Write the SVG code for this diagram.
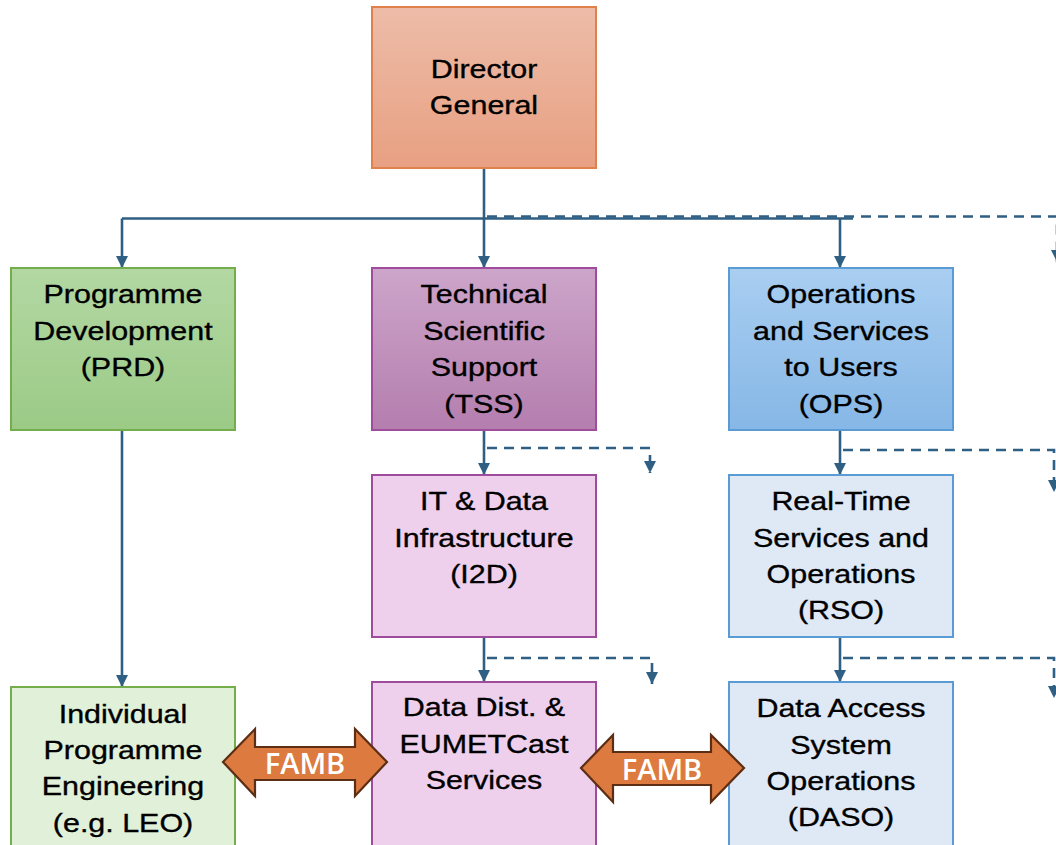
<svg xmlns="http://www.w3.org/2000/svg" width="1056" height="845" viewBox="0 0 1056 845">
<defs>
<linearGradient id="gDG" x1="0" y1="0" x2="0" y2="1"><stop offset="0" stop-color="#EDBCA8"/><stop offset="1" stop-color="#E8A082"/></linearGradient>
<linearGradient id="gPRD" x1="0" y1="0" x2="0" y2="1"><stop offset="0" stop-color="#B3D8A3"/><stop offset="1" stop-color="#9BCA86"/></linearGradient>
<linearGradient id="gTSS" x1="0" y1="0" x2="0" y2="1"><stop offset="0" stop-color="#CDA5CA"/><stop offset="1" stop-color="#B47EAE"/></linearGradient>
<linearGradient id="gOPS" x1="0" y1="0" x2="0" y2="1"><stop offset="0" stop-color="#A9CEF1"/><stop offset="1" stop-color="#86B7E6"/></linearGradient>
<marker id="ah" markerUnits="userSpaceOnUse" markerWidth="13" markerHeight="13" refX="12" refY="6.5" orient="auto"><path d="M0,0.5 L12,6.5 L0,12.5 z" fill="#2F5F82"/></marker>
<style>
.box{stroke-width:2}
.t{font-family:"Liberation Sans",Arial,Helvetica,sans-serif;font-size:25.8px;fill:#000;stroke:#000;stroke-width:0.35;text-anchor:middle}
.c{fill:none;stroke:#2F5F82;stroke-width:2.6}
.d{fill:none;stroke:#2F5F82;stroke-width:2.6;stroke-dasharray:10 7}
.famb{fill:#DD7A40;stroke:#5C2E14;stroke-width:2.2;stroke-linejoin:miter}
.ft{font-family:"Open Sans","Noto Sans",sans-serif;font-size:29px;font-weight:600;fill:#fff;text-anchor:middle}
</style>
</defs>
<rect width="1056" height="845" fill="#fff"/>

<g id="connectors">
<path class="c" d="M484,168 V218.5"/>
<path class="c" d="M122,218.5 H853"/>
<path class="c" d="M122,218.5 V268" marker-end="url(#ah)"/>
<path class="c" d="M484,218.5 V268" marker-end="url(#ah)"/>
<path class="c" d="M840,218.5 V268" marker-end="url(#ah)"/>
<path class="d" d="M487,216.5 H1057 V262" marker-end="url(#ah)"/>
<path class="c" d="M122,430 V687" marker-end="url(#ah)"/>
<path class="c" d="M484,430 V475" marker-end="url(#ah)"/>
<path class="d" d="M487,448 H650 V473" marker-end="url(#ah)"/>
<path class="c" d="M840,430 V475" marker-end="url(#ah)"/>
<path class="d" d="M843,450 H1054 V492" marker-end="url(#ah)"/>
<path class="c" d="M484,637 V682" marker-end="url(#ah)"/>
<path class="d" d="M487,658 H652 V684" marker-end="url(#ah)"/>
<path class="c" d="M840,637 V682" marker-end="url(#ah)"/>
<path class="d" d="M843,658 H1054 V698" marker-end="url(#ah)"/>
</g>

<g id="dg">
<rect class="box" x="372" y="7" width="224" height="161" fill="url(#gDG)" stroke="#E0804A"/>
<g transform="translate(484 0) scale(1.18 1)"><text class="t" x="0" y="78">Director</text><text class="t" x="0" y="114">General</text></g>
</g>

<g id="prd">
<rect class="box" x="11" y="268" width="224" height="162" fill="url(#gPRD)" stroke="#74AE4C"/>
<g transform="translate(123 0) scale(1.18 1)"><text class="t" x="0" y="303">Programme</text><text class="t" x="0" y="340">Development</text><text class="t" x="0" y="376">(PRD)</text></g>
</g>

<g id="tss">
<rect class="box" x="372" y="268" width="224" height="162" fill="url(#gTSS)" stroke="#A04C9C"/>
<g transform="translate(484 0) scale(1.18 1)"><text class="t" x="0" y="303">Technical</text><text class="t" x="0" y="340">Scientific</text><text class="t" x="0" y="376">Support</text><text class="t" x="0" y="413">(TSS)</text></g>
</g>

<g id="ops">
<rect class="box" x="729" y="268" width="224" height="162" fill="url(#gOPS)" stroke="#5B9BD5"/>
<g transform="translate(841 0) scale(1.18 1)"><text class="t" x="0" y="303">Operations</text><text class="t" x="0" y="340">and Services</text><text class="t" x="0" y="376">to Users</text><text class="t" x="0" y="413">(OPS)</text></g>
</g>

<g id="i2d">
<rect class="box" x="372" y="475" width="224" height="162" fill="#EED0EC" stroke="#A04C9C"/>
<g transform="translate(484 0) scale(1.18 1)"><text class="t" x="0" y="510">IT &amp; Data</text><text class="t" x="0" y="547">Infrastructure</text><text class="t" x="0" y="583">(I2D)</text></g>
</g>

<g id="rso">
<rect class="box" x="729" y="475" width="224" height="162" fill="#DFE8F5" stroke="#5B9BD5"/>
<g transform="translate(841 0) scale(1.18 1)"><text class="t" x="0" y="510">Real-Time</text><text class="t" x="0" y="547">Services and</text><text class="t" x="0" y="583">Operations</text><text class="t" x="0" y="619">(RSO)</text></g>
</g>

<g id="ipe">
<rect class="box" x="11" y="687" width="224" height="170" fill="#E1F0D9" stroke="#74AE4C"/>
<g transform="translate(123 0) scale(1.18 1)"><text class="t" x="0" y="723">Individual</text><text class="t" x="0" y="759">Programme</text><text class="t" x="0" y="795">Engineering</text><text class="t" x="0" y="832">(e.g. LEO)</text></g>
</g>

<g id="ddes">
<rect class="box" x="372" y="682" width="224" height="175" fill="#EED0EC" stroke="#A04C9C"/>
<g transform="translate(484 0) scale(1.18 1)"><text class="t" x="0" y="716">Data Dist. &amp;</text><text class="t" x="0" y="753">EUMETCast</text><text class="t" x="0" y="789">Services</text></g>
</g>

<g id="daso">
<rect class="box" x="729" y="682" width="224" height="175" fill="#DFE8F5" stroke="#5B9BD5"/>
<g transform="translate(841 0) scale(1.18 1)"><text class="t" x="0" y="717">Data Access</text><text class="t" x="0" y="754">System</text><text class="t" x="0" y="790">Operations</text><text class="t" x="0" y="826">(DASO)</text></g>
</g>

<g id="famb1">
<path class="famb" d="M223,762 L255,729 V747 H355 V729 L387,762 L355,796 V780 H255 V796 Z"/>
<text class="ft" x="305" y="774">FAMB</text>
</g>

<g id="famb2">
<path class="famb" d="M581,768 L613,735 V752 H711 V735 L744,768 L711,802 V785 H613 V802 Z"/>
<text class="ft" x="662" y="780">FAMB</text>
</g>
</svg>
